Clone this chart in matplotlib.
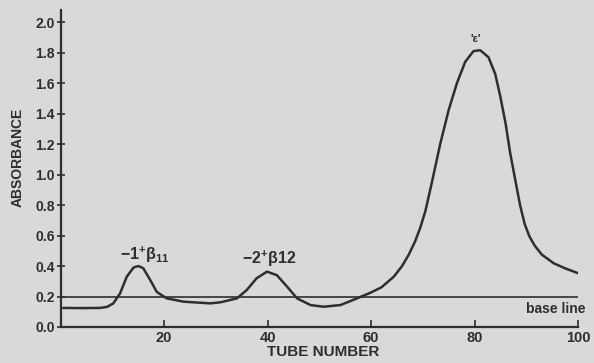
import matplotlib
matplotlib.use("Agg")
import matplotlib.pyplot as plt

tube = [0.5, 4, 7.6, 9, 10.2, 11.5, 12.8, 14.1, 15.05, 16.0, 17.3, 18.6, 20.5, 23.8,
        28.9, 30.9, 34.1, 36.0, 37.9, 39.9, 41.8, 43.8, 45.7, 48.3, 50.8, 54.1, 57.3,
        59.9, 62, 64.4, 66, 67.3, 68.5, 69.5, 70.5, 71.8, 73.4, 75.0, 76.6, 78.2,
        79.8, 81.1, 82.7, 84.0, 85.0, 86.0, 86.9, 87.9, 88.8, 89.7, 90.6, 91.6, 93.0,
        95.3, 97.5, 100]
absorbance = [0.125, 0.124, 0.125, 0.132, 0.155, 0.22, 0.33, 0.39, 0.40, 0.385, 0.31,
              0.23, 0.188, 0.166, 0.155, 0.162, 0.188, 0.243, 0.32, 0.363, 0.34, 0.264,
              0.188, 0.144, 0.133, 0.144, 0.188, 0.225, 0.26, 0.33, 0.40, 0.475, 0.56,
              0.65, 0.76, 0.955, 1.205, 1.423, 1.60, 1.74, 1.81, 1.816, 1.77, 1.66, 1.51,
              1.336, 1.14, 0.96, 0.80, 0.675, 0.595, 0.535, 0.475, 0.418, 0.385, 0.353]
baseline_value = 0.197
x_ticks = [20, 40, 60, 80, 100]
y_ticks = [0.0, 0.2, 0.4, 0.6, 0.8, 1.0, 1.2, 1.4, 1.6, 1.8, 2.0]
peak_labels = [r"$-1^{+}\beta_{11}$", r"$-2^{+}\beta 12$", "'ε'"]
peak_pos = [(16.2, 0.405), (40.3, 0.38), (80.3, 1.86)]

bg = "#d9d9d7"
ink = "#2e2e2e"
plt.rcParams['font.family'] = ['Liberation Sans', 'DejaVu Sans']
plt.rcParams['mathtext.fontset'] = 'custom'
plt.rcParams['mathtext.rm'] = 'Liberation Sans:bold'
plt.rcParams['mathtext.it'] = 'Liberation Sans:bold'

fig = plt.figure(figsize=(5.94, 3.63), dpi=100, facecolor=bg)
ax = fig.add_axes([0.1019, 0.0992, 0.8712, 0.8733], facecolor=bg)

ax.plot(tube, absorbance, color=ink, lw=1.8, solid_capstyle='round',
        solid_joinstyle='round')
ax.plot([0, 100], [baseline_value, baseline_value], color=ink, lw=1.2)

ax.set_xlim(0, 100)
ax.set_ylim(0, 2.08)
for s in ['top', 'right']:
    ax.spines[s].set_visible(False)
for s in ['left', 'bottom']:
    ax.spines[s].set_color(ink)
    ax.spines[s].set_linewidth(1.6)

ax.set_xticks(x_ticks)
ax.set_xticklabels([str(t) for t in x_ticks], fontsize=10.5, fontweight='bold', color=ink)
ax.set_yticks(y_ticks)
ax.set_yticklabels([f"{t:.1f}" for t in y_ticks], fontsize=10, fontweight='bold', color=ink)
ax.tick_params(axis='x', direction='in', length=5, width=1.2, color=ink, pad=3)
ax.tick_params(axis='y', direction='inout', length=6, width=1.2, color=ink, pad=1)

ax.set_xlabel("TUBE NUMBER", fontsize=11, fontweight='bold', color=ink, labelpad=0)
ax.xaxis.set_label_coords(0.507, -0.058)
ax.set_ylabel("ABSORBANCE", fontsize=10, fontweight='bold', color=ink)
ax.yaxis.set_label_coords(-0.069, 0.536)

ax.text(peak_pos[0][0], peak_pos[0][1], peak_labels[0], fontsize=11.5, color=ink,
        ha='center', va='bottom')
ax.text(peak_pos[1][0], peak_pos[1][1], peak_labels[1], fontsize=11.5, color=ink,
        ha='center', va='bottom')
ax.text(peak_pos[2][0], peak_pos[2][1], peak_labels[2], fontsize=8, color=ink,
        ha='center', va='bottom', fontweight='bold')
ax.text(101.5, baseline_value - 0.03, "base line", fontsize=10, fontweight='bold',
        color=ink, ha='right', va='top', clip_on=False)

fig.savefig("out.png", dpi=100, facecolor=bg)
